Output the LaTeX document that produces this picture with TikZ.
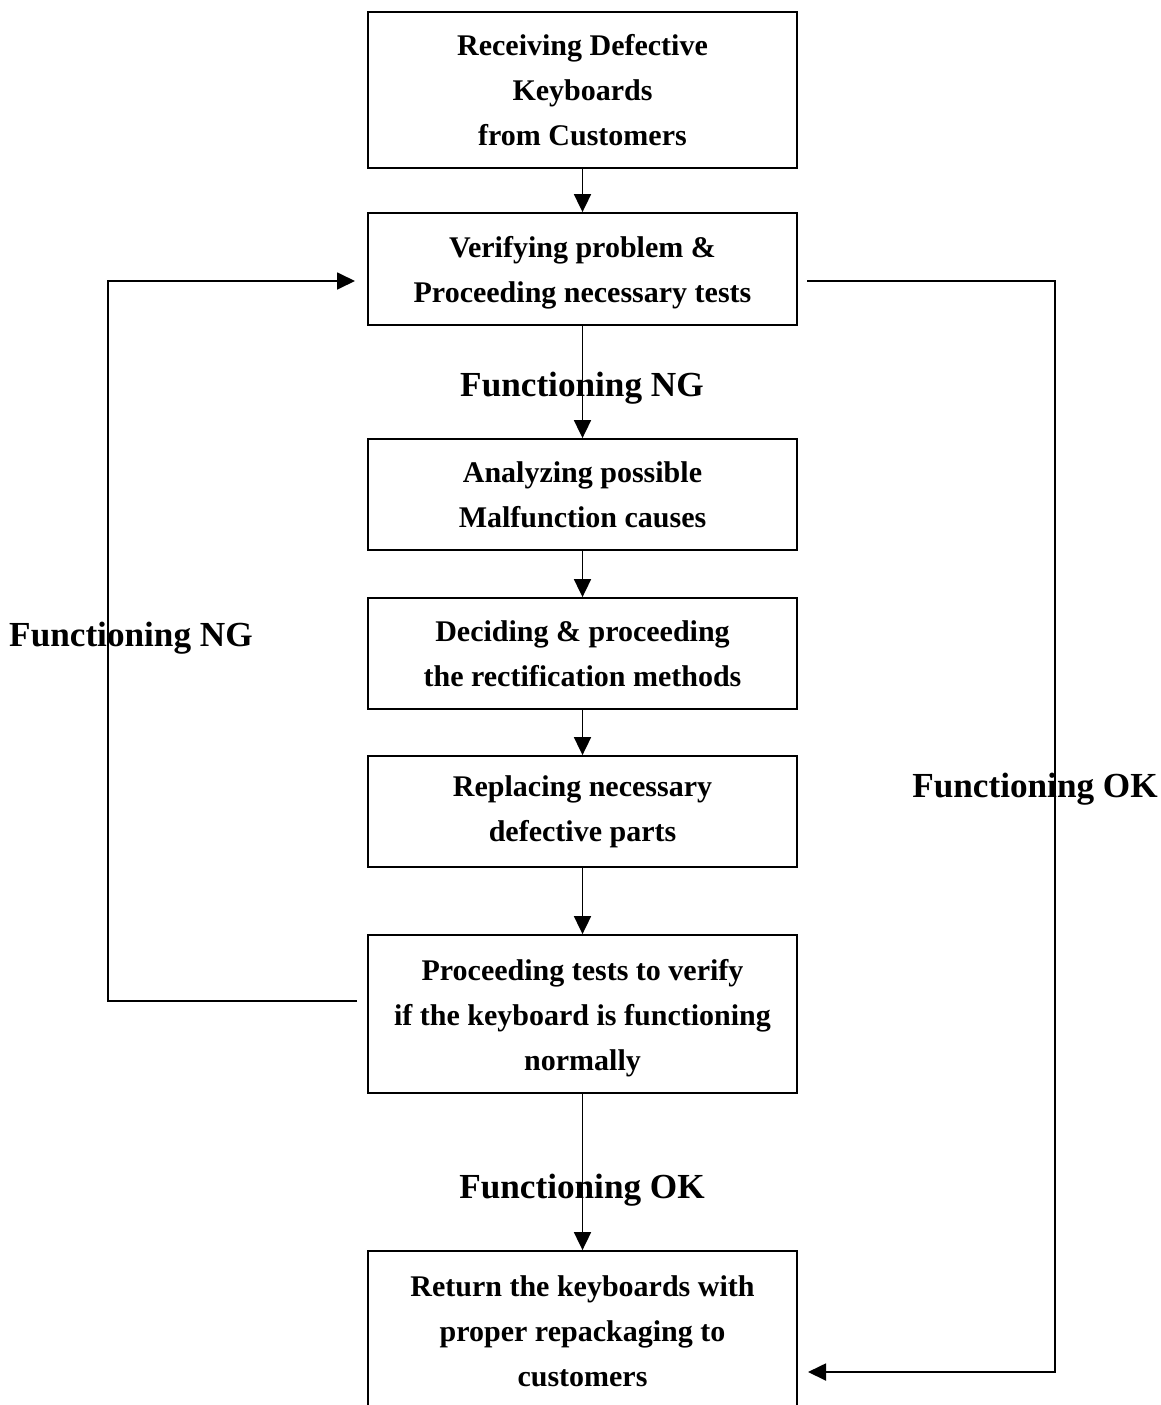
\documentclass[tikz,border=0pt]{standalone}
\usepackage{fontspec}
\setmainfont{Liberation Serif}
\usetikzlibrary{arrows.meta}
\newcommand{\downstrut}{\rule{0pt}{29pt}}
\begin{document}
\begin{tikzpicture}[x=1pt,y=-1pt,
  procbox/.style={draw, line width=1.8pt, minimum width=429pt, inner sep=0pt,
    align=center, font=\fontsize{30}{45}\selectfont\bfseries},
  lbl/.style={font=\fontsize{35.2}{40}\selectfont\bfseries, inner sep=0pt},
  conn/.style={line width=1.8pt, -{Triangle[length=18pt,width=17pt]}}]
\useasboundingbox (0,0) rectangle (1160,1405);
\clip (0,0) rectangle (1160,1405);
\node[procbox, minimum height=156pt] (b1) at (582.5,90) {Receiving Defective\\Keyboards\\from Customers};
\node[procbox, minimum height=112pt] (b2) at (582.5,269) {\downstrut Verifying problem \&\\Proceeding necessary tests};
\node[procbox, minimum height=111pt] (b3) at (582.5,494.5) {Analyzing possible\\Malfunction causes};
\node[procbox, minimum height=111pt] (b4) at (582.5,653.5) {Deciding \& proceeding\\the rectification methods};
\node[procbox, minimum height=111pt] (b5) at (582.5,811.5) {Replacing necessary\\defective parts};
\node[procbox, minimum height=158pt] (b6) at (582.5,1014) {\downstrut Proceeding tests to verify\\if the keyboard is functioning\\normally};
\node[procbox, minimum height=160pt] (b7) at (582.5,1331) {Return the keyboards with\\proper repackaging to\\customers};
\draw[conn] (b1) -- (b2);
\draw[conn] (b2) -- (b3);
\draw[conn] (b3) -- (b4);
\draw[conn] (b4) -- (b5);
\draw[conn] (b5) -- (b6);
\draw[conn] (b6) -- (b7);
\node[lbl] (ng1) at (582,388) {Functioning NG};
\node[lbl] (ok1) at (582,1190) {Functioning OK};
\node[lbl] (ng2) at (131,638) {Functioning NG};
\node[lbl] (ok2) at (1035,789) {Functioning OK};
\coordinate (ls) at (357,1001);
\coordinate (lc1) at (108,1001);
\coordinate (lc2) at (108,281);
\coordinate (le) at (355,281);
\draw[conn] (ls) -- (lc1) -- (lc2) -- (le);
\coordinate (rs) at (807,281);
\coordinate (rc1) at (1055,281);
\coordinate (rc2) at (1055,1372);
\coordinate (re) at (808,1372);
\draw[conn] (rs) -- (rc1) -- (rc2) -- (re);
\end{tikzpicture}
\end{document}
